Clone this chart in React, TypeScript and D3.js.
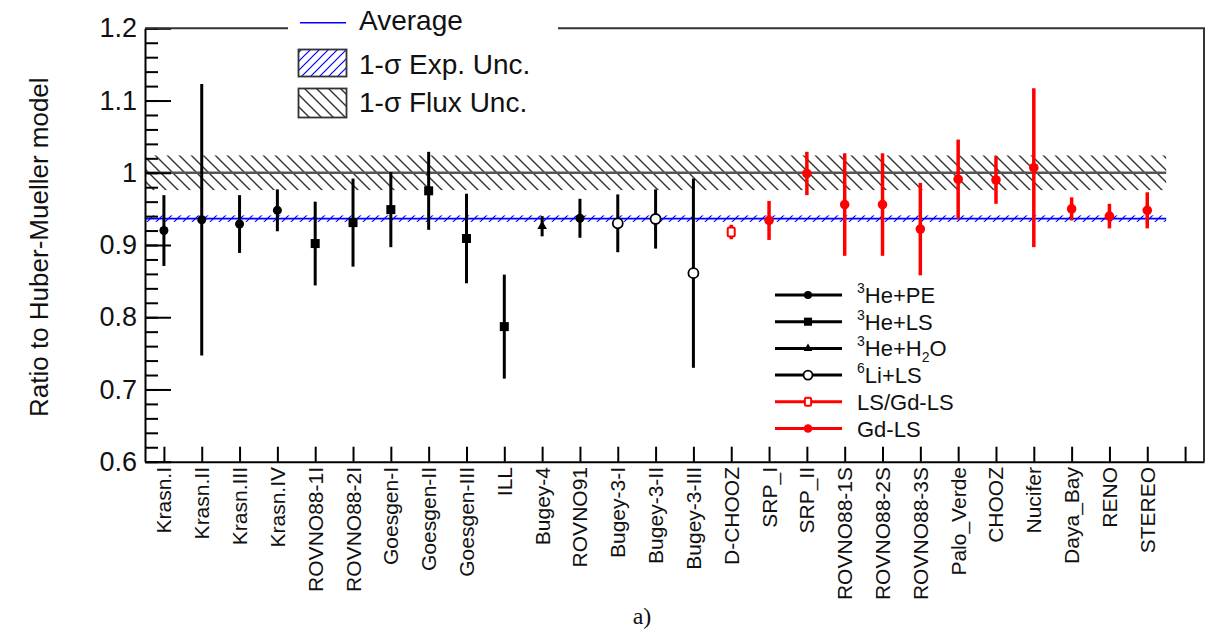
import React, { useEffect, useRef } from 'react';
import * as d3 from 'd3';

// experiments, in the order they are drawn along x
const experiments = [
  'Krasn.I', 'Krasn.II', 'Krasn.III', 'Krasn.IV', 'ROVNO88-1I', 'ROVNO88-2I',
  'Goesgen-I', 'Goesgen-II', 'Goesgen-III', 'ILL', 'Bugey-4', 'ROVNO91',
  'Bugey-3-I', 'Bugey-3-II', 'Bugey-3-III', 'D-CHOOZ', 'SRP_I', 'SRP_II',
  'ROVNO88-1S', 'ROVNO88-2S', 'ROVNO88-3S', 'Palo_Verde', 'CHOOZ', 'Nucifer',
  'Daya_Bay', 'RENO', 'STEREO',
];
const ratios = [
  0.920, 0.935, 0.929, 0.948, 0.902, 0.931, 0.949, 0.975, 0.909, 0.787, 0.926, 0.937,
  0.930, 0.936, 0.861, 0.918, 0.934, 0.999, 0.956, 0.956, 0.922, 0.991, 0.990, 1.007,
  0.950, 0.940, 0.948,
];
const errors = [
  0.049, 0.188, 0.040, 0.029, 0.058, 0.061, 0.052, 0.054, 0.062, 0.072, 0.014, 0.027,
  0.040, 0.041, 0.131, 0.010, 0.027, 0.030, 0.071, 0.071, 0.064, 0.055, 0.033, 0.110,
  0.016, 0.017, 0.025,
];
const detectors = [
  'He3PE', 'He3PE', 'He3PE', 'He3PE', 'He3LS', 'He3LS', 'He3LS', 'He3LS', 'He3LS', 'He3LS',
  'He3H2O', 'He3PE', 'Li6LS', 'Li6LS', 'Li6LS', 'LSGdLS', 'GdLS', 'GdLS', 'GdLS', 'GdLS',
  'GdLS', 'GdLS', 'GdLS', 'GdLS', 'GdLS', 'GdLS', 'GdLS',
];
const detectorKeys = ['He3PE', 'He3LS', 'He3H2O', 'Li6LS', 'LSGdLS', 'GdLS'];

const average = 0.9365;
const expUnc = 0.0045;
const fluxUnc = 0.024;
const yTicks = [0.6, 0.7, 0.8, 0.9, 1.0, 1.1, 1.2];

const FONT = '"Liberation Sans", Arial, Helvetica, sans-serif';

const isRed = k => k === 'LSGdLS' || k === 'GdLS';

const App = () => {
  const ref = useRef(null);

  useEffect(() => {
    const svg = d3.select(ref.current);
    svg.selectAll('*').remove();

    const x = d3.scaleLinear().domain([-0.5, 27.5]).range([145, 1204]);
    const y = d3.scaleLinear().domain([0.6, 1.2]).range([461.7, 28.3]);
    const xL = x(-0.5), xR = x(27.5), yB = y(0.6), yT = y(1.2);
    const bandR = x(experiments.length - 0.5);

    const defs = svg.append('defs');
    defs.append('pattern')
      .attr('id', 'fluxHatch').attr('patternUnits', 'userSpaceOnUse')
      .attr('width', 12).attr('height', 12)
      .append('path').attr('d', 'M-3,-3 L15,15 M-3,9 L3,15 M9,-3 L15,3')
      .attr('stroke', '#333').attr('stroke-width', 1.4);
    defs.append('pattern')
      .attr('id', 'expHatch').attr('patternUnits', 'userSpaceOnUse')
      .attr('width', 9).attr('height', 9)
      .append('path').attr('d', 'M-2,11 L11,-2 M-2,2 L2,-2 M7,11 L11,7')
      .attr('stroke', '#0000ff').attr('stroke-width', 1.2);

    // flux band and unity line
    svg.append('rect')
      .attr('x', xL).attr('width', bandR - xL)
      .attr('y', y(1 + fluxUnc)).attr('height', y(1 - fluxUnc) - y(1 + fluxUnc))
      .attr('fill', 'url(#fluxHatch)');
    svg.append('line')
      .attr('x1', xL).attr('x2', bandR).attr('y1', y(1)).attr('y2', y(1))
      .attr('stroke', '#555').attr('stroke-width', 2.5);

    // experimental band and average line
    svg.append('rect')
      .attr('x', xL).attr('width', bandR - xL)
      .attr('y', y(average + expUnc)).attr('height', y(average - expUnc) - y(average + expUnc))
      .attr('fill', 'url(#expHatch)');
    svg.append('line')
      .attr('x1', xL).attr('x2', bandR).attr('y1', y(average)).attr('y2', y(average))
      .attr('stroke', '#0000ff').attr('stroke-width', 1.6);

    // axes
    const yAxis = svg.append('g').attr('transform', `translate(${xL},0)`);
    yAxis.call(d3.axisLeft(y).tickValues(d3.range(0.6, 1.2001, 0.02)).tickSize(-13).tickSizeOuter(0).tickFormat(() => ''));
    yAxis.call(g => g.selectAll('.tick line').attr('stroke-width', 2));
    const yMajor = svg.append('g').attr('transform', `translate(${xL},0)`)
      .call(d3.axisLeft(y).tickValues(yTicks).tickSize(-26).tickSizeOuter(0).tickPadding(8)
        .tickFormat(d => String(+(+d).toFixed(1))));
    yMajor.select('.domain').attr('stroke-width', 2);
    yMajor.selectAll('.tick line').attr('stroke-width', 2);
    yMajor.selectAll('.tick text').attr('font-family', FONT).attr('font-size', 27).attr('fill', '#111');

    const xAxis = svg.append('g').attr('transform', `translate(0,${yB})`)
      .call(d3.axisBottom(x).tickValues(d3.range(0, 28)).tickSize(-15).tickSizeOuter(0).tickFormat(() => ''));
    xAxis.select('.domain').attr('stroke-width', 2);
    xAxis.selectAll('.tick line').attr('stroke-width', 2);

    svg.append('path')
      .attr('d', `M${xL},${yT} L${xR},${yT} L${xR},${yB}`)
      .attr('fill', 'none').attr('stroke', '#333').attr('stroke-width', 2);

    // category labels
    svg.append('g').selectAll('text').data(experiments).join('text')
      .attr('transform', (d, i) => `translate(${x(i) + 7.5},467) rotate(-90)`)
      .attr('text-anchor', 'end')
      .attr('font-family', FONT).attr('font-size', 21).attr('fill', '#111')
      .text(d => d);

    // y title
    svg.append('text')
      .attr('transform', 'translate(48,417) rotate(-90)')
      .attr('font-family', FONT).attr('font-size', 26).attr('fill', '#111')
      .text('Ratio to Huber-Mueller model');

    // error bars
    const pts = experiments.map((name, i) => ({ i, v: ratios[i], e: errors[i], k: detectors[i] }));
    svg.append('g').selectAll('line').data(pts).join('line')
      .attr('x1', d => x(d.i)).attr('x2', d => x(d.i))
      .attr('y1', d => y(d.v + d.e)).attr('y2', d => y(d.v - d.e))
      .attr('stroke', d => isRed(d.k) ? '#ff0000' : '#000')
      .attr('stroke-width', d => isRed(d.k) ? 3.5 : 3);

    const drawMarker = (g, k, cx, cy, s = 1) => {
      if (k === 'He3PE') g.append('circle').attr('cx', cx).attr('cy', cy).attr('r', 4.5 * s).attr('fill', '#000');
      else if (k === 'GdLS') g.append('circle').attr('cx', cx).attr('cy', cy).attr('r', 4.8 * s).attr('fill', '#ff0000');
      else if (k === 'He3LS') g.append('rect').attr('x', cx - 4.5 * s).attr('y', cy - 4.5 * s)
        .attr('width', 9 * s).attr('height', 9 * s).attr('fill', '#000');
      else if (k === 'He3H2O') g.append('path')
        .attr('d', d3.symbol(d3.symbolTriangle, 40 * s * s)()).attr('transform', `translate(${cx},${cy})`).attr('fill', '#000');
      else if (k === 'Li6LS') g.append('circle').attr('cx', cx).attr('cy', cy).attr('r', 5 * s)
        .attr('fill', '#fff').attr('stroke', '#000').attr('stroke-width', 1.8);
      else if (k === 'LSGdLS') g.append('rect').attr('x', cx - 3.5 * s).attr('y', cy - 4.5 * s)
        .attr('width', 7 * s).attr('height', 9 * s).attr('rx', 1.5)
        .attr('fill', '#fff').attr('stroke', '#ff0000').attr('stroke-width', 2);
    };
    const markers = svg.append('g');
    pts.forEach(d => drawMarker(markers, d.k, x(d.i), y(d.v)));

    // top legend
    const lg = svg.append('g');
    lg.append('rect').attr('x', 288).attr('y', 0).attr('width', 270).attr('height', 124).attr('fill', '#fff');
    lg.append('line').attr('x1', 300).attr('x2', 346).attr('y1', 22.7).attr('y2', 22.7)
      .attr('stroke', '#0000ff').attr('stroke-width', 1.6);
    lg.append('rect').attr('x', 298.5).attr('y', 49.5).attr('width', 48).attr('height', 27)
      .attr('fill', 'url(#expHatch)').attr('stroke', '#333').attr('stroke-width', 1.8);
    lg.append('rect').attr('x', 298.5).attr('y', 88.5).attr('width', 48).attr('height', 29)
      .attr('fill', 'url(#fluxHatch)').attr('stroke', '#333').attr('stroke-width', 1.8);
    [['Average', 30], ['1-σ Exp. Unc.', 74], ['1-σ Flux Unc.', 112]].forEach(([t, yy]) => {
      lg.append('text').attr('x', 359).attr('y', yy)
        .attr('font-family', FONT).attr('font-size', 28).attr('fill', '#111').text(t);
    });

    // detector legend
    const dl = svg.append('g');
    const rowY = i => 295 + i * 26.7;
    detectorKeys.forEach((k, i) => {
      const yy = rowY(i);
      dl.append('line').attr('x1', 775).attr('x2', 842).attr('y1', yy).attr('y2', yy)
        .attr('stroke', isRed(k) ? '#ff0000' : '#000').attr('stroke-width', 3);
      drawMarker(dl, k, 808, yy, 0.9);
    });
    const lt = (i) => dl.append('text').attr('x', 857).attr('y', rowY(i) + 8)
      .attr('font-family', FONT).attr('font-size', 22).attr('fill', '#111');
    const sup = (t, s) => t.append('tspan').attr('font-size', 14).attr('dy', -10).text(s);
    const main = (t, s, dy = 10) => t.append('tspan').attr('font-size', 22).attr('dy', dy).text(s);
    let t = lt(0); sup(t, '3'); main(t, 'He+PE');
    t = lt(1); sup(t, '3'); main(t, 'He+LS');
    t = lt(2); sup(t, '3'); main(t, 'He+H');
    t.append('tspan').attr('font-size', 14).attr('dy', 6).text('2');
    main(t, 'O', -6);
    t = lt(3); sup(t, '6'); main(t, 'Li+LS');
    lt(4).text('LS/Gd-LS');
    lt(5).text('Gd-LS');

    svg.append('text')
      .attr('x', 642).attr('y', 624).attr('text-anchor', 'middle')
      .attr('font-family', '"Liberation Serif", "DejaVu Serif", serif').attr('font-size', 24).attr('fill', '#111')
      .text('a)');
  }, []);

  return (
    <svg ref={ref} width={1214} height={633}
      style={{ position: 'absolute', left: 0, top: 0, background: '#fff' }} />
  );
};

export default App;
